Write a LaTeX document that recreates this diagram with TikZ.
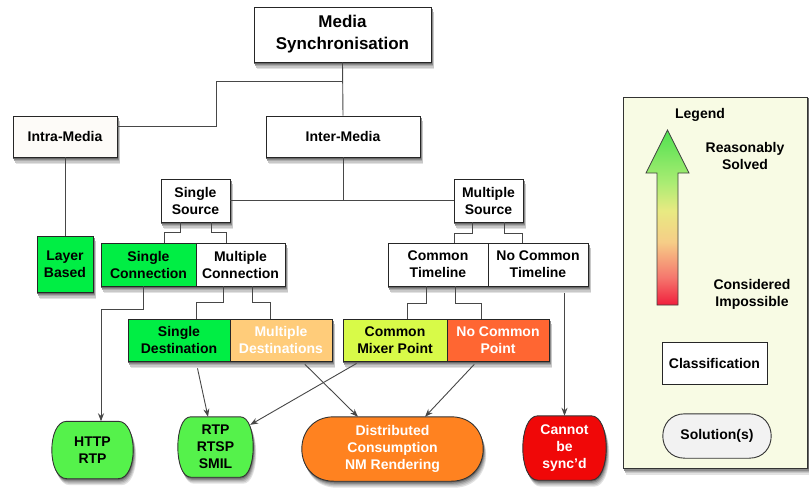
\documentclass[tikz,border=0pt]{standalone}
\usepackage{fontspec}
\setmainfont{Liberation Sans}
\usetikzlibrary{arrows.meta}
\pgfdeclarelayer{bottom}
\pgfdeclarelayer{background}
\pgfsetlayers{bottom,background,main}

% classification colours
\definecolor{clsgreen}{RGB}{0,238,68}
\definecolor{clspeach}{RGB}{255,204,122}
\definecolor{clslime}{RGB}{216,250,72}
\definecolor{clscoral}{RGB}{255,102,50}
% solution colours
\definecolor{solgreen}{RGB}{85,242,75}
\definecolor{solorange}{RGB}{255,130,32}
\definecolor{solred}{RGB}{240,8,8}
\definecolor{solgray}{RGB}{242,242,242}
% legend colours
\definecolor{legendbg}{RGB}{248,251,228}
\definecolor{rampred}{RGB}{240,30,60}
\definecolor{rampsalmon}{RGB}{245,120,110}
\definecolor{rampsand}{RGB}{246,205,135}
\definecolor{rampyellow}{RGB}{232,234,130}
\definecolor{ramplight}{RGB}{170,236,115}
\definecolor{rampgreen}{RGB}{80,225,80}
% shadow tones, darkest nearest the shape
\definecolor{shA}{RGB}{105,105,105}
\definecolor{shB}{RGB}{140,140,140}
\definecolor{shC}{RGB}{172,172,172}
\definecolor{shD}{RGB}{200,200,200}
\definecolor{shE}{RGB}{226,226,226}

\pgfdeclareverticalshading{legendramp}{100bp}{%
  color(0bp)=(rampred); color(25bp)=(rampred); color(33bp)=(rampsalmon);
  color(43bp)=(rampsand); color(52bp)=(rampyellow); color(60bp)=(ramplight);
  color(75bp)=(rampgreen); color(100bp)=(rampgreen)}

\tikzset{
  lbl/.style={font=\fontsize{14}{17}\selectfont\bfseries, align=center, inner sep=0pt},
  cls/.style={lbl, draw=black!85, line width=0.9pt, fill=white},
  sol/.style={lbl},
  solshape/.style={draw=black!80, line width=0.9pt},
  conn/.style={draw=black!72, line width=0.9pt},
  arr/.style={conn, -{Stealth[length=8pt,width=6pt]}},
  % outline with bulging ends around node #1, corner size #2, offset (#3,#4)
  blobat/.style n args={4}{insert path={
      ([xshift=#2+#3, yshift=#4]#1.north west) -- ([xshift=-#2+#3, yshift=#4]#1.north east)
      .. controls ([xshift=#2/3+#3, yshift=#4]#1.north east) and ([xshift=#2/3+#3, yshift=#4]#1.south east)
      .. ([xshift=-#2+#3, yshift=#4]#1.south east) -- ([xshift=#2+#3, yshift=#4]#1.south west)
      .. controls ([xshift=-#2/3+#3, yshift=#4]#1.south west) and ([xshift=-#2/3+#3, yshift=#4]#1.north west)
      .. cycle}},
  blob/.style 2 args={blobat={#1}{#2}{0pt}{0pt}},
}

% soft shadow below and right of a rectangular node
\newcommand\boxshadow[1]{%
  \fill[shE] ([xshift=3pt, yshift=-6.5pt]#1.south west) rectangle ([xshift=3pt, yshift=-6.5pt]#1.north east);
  \fill[shD] ([xshift=2.4pt, yshift=-5.2pt]#1.south west) rectangle ([xshift=2.4pt, yshift=-5.2pt]#1.north east);
  \fill[shC] ([xshift=1.8pt, yshift=-3.9pt]#1.south west) rectangle ([xshift=1.8pt, yshift=-3.9pt]#1.north east);
  \fill[shB] ([xshift=1.2pt, yshift=-2.6pt]#1.south west) rectangle ([xshift=1.2pt, yshift=-2.6pt]#1.north east);
  \fill[shA] ([xshift=0.6pt, yshift=-1.3pt]#1.south west) rectangle ([xshift=0.6pt, yshift=-1.3pt]#1.north east);}
% the same for a solution outline
\newcommand\blobshadow[2]{%
  \path[fill=shE, blobat={#1}{#2}{3pt}{-6.5pt}];
  \path[fill=shD, blobat={#1}{#2}{2.4pt}{-5.2pt}];
  \path[fill=shC, blobat={#1}{#2}{1.8pt}{-3.9pt}];
  \path[fill=shB, blobat={#1}{#2}{1.2pt}{-2.6pt}];
  \path[fill=shA, blobat={#1}{#2}{0.6pt}{-1.3pt}];}

\begin{document}
\begin{tikzpicture}[x=1pt, y=-1pt]
\useasboundingbox (0,0) rectangle (809,488);

% ---------- legend panel with its shadow ----------
\begin{pgfonlayer}{bottom}
  \fill[shE] (626,103.5) rectangle (810,474.5);
  \fill[shD] (625.4,102.2) rectangle (810,473.2);
  \fill[shC] (624.8,100.9) rectangle (809.5,471.9);
  \fill[shB] (624.2,99.6) rectangle (809,470.6);
  \fill[shA] (623.6,98.3) rectangle (808.5,469.3);
  \node[draw=black!80, line width=0.9pt, fill=legendbg, inner sep=0pt,
        minimum width=184.5pt, minimum height=371pt] (legend) at (715.25,282.5) {};
\end{pgfonlayer}

% ---------- classification tree ----------
\node[cls, minimum width=177pt, minimum height=55pt,
      font=\fontsize{17}{22}\selectfont\bfseries] (ms) at (342.5,34.5) {Media\\Synchronisation};
\node[cls, fill={rgb,255:red,253;green,251;blue,248}, minimum width=104pt, minimum height=41pt] (intra) at (65,136.5) {Intra-Media};
\node[cls, minimum width=154pt, minimum height=41pt] (inter) at (343,136.5) {Inter-Media};

\node[cls, minimum width=69pt, minimum height=43pt] (ss) at (195.5,200.5) {Single\\Source};
\node[cls, minimum width=69pt, minimum height=43pt] (msrc) at (488.5,200.5) {Multiple\\Source};

\node[cls, fill=clsgreen, minimum width=56pt, minimum height=56pt] (lb) at (65,264) {Layer\\Based};
\node[cls, fill=clsgreen, minimum width=95pt, minimum height=43pt] (sc) at (148.5,264.5) {Single\\Connection};
\node[cls, minimum width=89pt, minimum height=43pt] (mc) at (240.5,264.5) {Multiple\\Connection};
\node[cls, minimum width=100pt, minimum height=43pt] (ct) at (438,264.5) {Common\\Timeline};
\node[cls, minimum width=100pt, minimum height=43pt] (nct) at (538,264.5) {No Common\\Timeline};

\node[cls, fill=clsgreen, minimum width=102pt, minimum height=42pt] (sd) at (179,340) {Single\\Destination};
\node[cls, fill=clspeach, text=white, minimum width=102pt, minimum height=42pt] (mdst) at (281,340) {Multiple\\Destinations};
\node[cls, fill=clslime, minimum width=104pt, minimum height=42pt] (cmp) at (395,340) {Common\\Mixer Point};
\node[cls, fill=clscoral, text=white, minimum width=102pt, minimum height=42pt] (ncp) at (498,340) {No Common\\Point};

% ---------- solutions (outlines drawn beneath their labels) ----------
\node[sol, minimum width=81pt, minimum height=57pt] (http) at (92.5,450) {HTTP\\RTP};
\node[sol, minimum width=75pt, minimum height=60pt] (rtp) at (215.5,447) {RTP\\RTSP\\SMIL};
\node[sol, text=white, minimum width=181pt, minimum height=64pt] (dist) at (392.5,449) {Distributed\\Consumption\\NM Rendering};
\node[sol, text=white, minimum width=83pt, minimum height=64pt] (cant) at (564.5,448) {Cannot\\be\\sync'd};

% ---------- legend contents ----------
\node[lbl] (legtitle) at (700,115) {Legend};
\path[draw=black!75, line width=0.7pt, shading=legendramp]
  (657,305) -- (657,173) -- (646,173) -- (667.5,130) -- (689,173) -- (678,173) -- (678,305) -- cycle;
\node[lbl] (solved) at (745,156) {Reasonably\\Solved};
\node[lbl] (impossible) at (752,294) {Considered\\Impossible};
\node[lbl, draw=black!85, line width=0.7pt, fill=white, minimum width=105pt, minimum height=42pt] (legcls) at (714.5,363) {Classification};
\node[sol, minimum width=108pt, minimum height=44pt] (legsol) at (717,436) {Solution(s)};

% ---------- shadows and solution outlines ----------
\begin{pgfonlayer}{background}
  \boxshadow{ms}\boxshadow{intra}\boxshadow{inter}
  \boxshadow{ss}\boxshadow{msrc}\boxshadow{lb}
  \boxshadow{sc}\boxshadow{mc}\boxshadow{ct}\boxshadow{nct}
  \boxshadow{sd}\boxshadow{mdst}\boxshadow{cmp}\boxshadow{ncp}
  \blobshadow{http}{15pt}
  \blobshadow{rtp}{13pt}
  \blobshadow{dist}{32pt}
  \blobshadow{cant}{15pt}
  \path[solshape, fill=solgreen, blob={http}{15pt}];
  \path[solshape, fill=solgreen, blob={rtp}{13pt}];
  \path[solshape, fill=solorange, blob={dist}{32pt}];
  \path[solshape, fill=solred, blob={cant}{15pt}];
  \path[solshape, fill=solgray, blob={legsol}{22pt}];
\end{pgfonlayer}

% ---------- connectors ----------
\coordinate (j0) at (216,81);
\coordinate (j1) at (343,81);
\draw[conn] (ms.south) -- (inter.north);
\draw[conn] ([yshift=10.5pt]intra.east) -| (j0) -- (j1);
\draw[conn] (intra.south) -- (lb.north);
\draw[conn] (inter.south) -- (inter.south |- ss.east);
\draw[conn] (ss.east) -- (msrc.west);

\draw[conn] ([xshift=-15.5pt]ss.south) -- ++(0pt,-10pt) -| ([xshift=15.5pt]sc.north);
\draw[conn] ([xshift=15.5pt]ss.south) -- ++(0pt,-10pt) -| ([xshift=-14.5pt]mc.north);
\draw[conn] ([xshift=-16.5pt]msrc.south) -- ++(0pt,-11pt) -| ([xshift=16pt]ct.north);
\draw[conn] ([xshift=15.5pt]msrc.south) -- ++(0pt,-11pt) -| ([xshift=-16pt]nct.north);

\draw[conn] ([xshift=-17.5pt]mc.south) -- ++(0pt,-16pt) -| ([xshift=17pt]sd.north);
\draw[conn] ([xshift=11.5pt]mc.south) -- ++(0pt,-16pt) -| ([xshift=-11pt]mdst.north);
\draw[conn] ([xshift=-12pt]ct.south) -- ++(0pt,-17pt) -| ([xshift=12pt]cmp.north);
\draw[conn] ([xshift=17pt]ct.south) -- ++(0pt,-17pt) -| ([xshift=-17pt]ncp.north);

\draw[arr] ([xshift=-5.5pt]sc.south) -- ++(0pt,-23pt) -| ([xshift=8.5pt]http.north);
\draw[arr, shorten <=7pt] (cant.north |- nct.south) -- (cant.north);
\draw[arr, shorten <=7pt] ([xshift=17pt]sd.south) -- ([xshift=-7.5pt]rtp.north);
\draw[arr, shorten <=4pt] ([xshift=-35pt]cmp.south) -- ([xshift=-3pt,yshift=-8pt]rtp.north east);
\draw[arr, shorten <=4pt] ([xshift=21pt]mdst.south) -- ([xshift=-34.5pt]dist.north);
\draw[arr, shorten <=4pt] ([xshift=-21pt]ncp.south) -- ([xshift=32.5pt]dist.north);
\end{tikzpicture}
\end{document}
